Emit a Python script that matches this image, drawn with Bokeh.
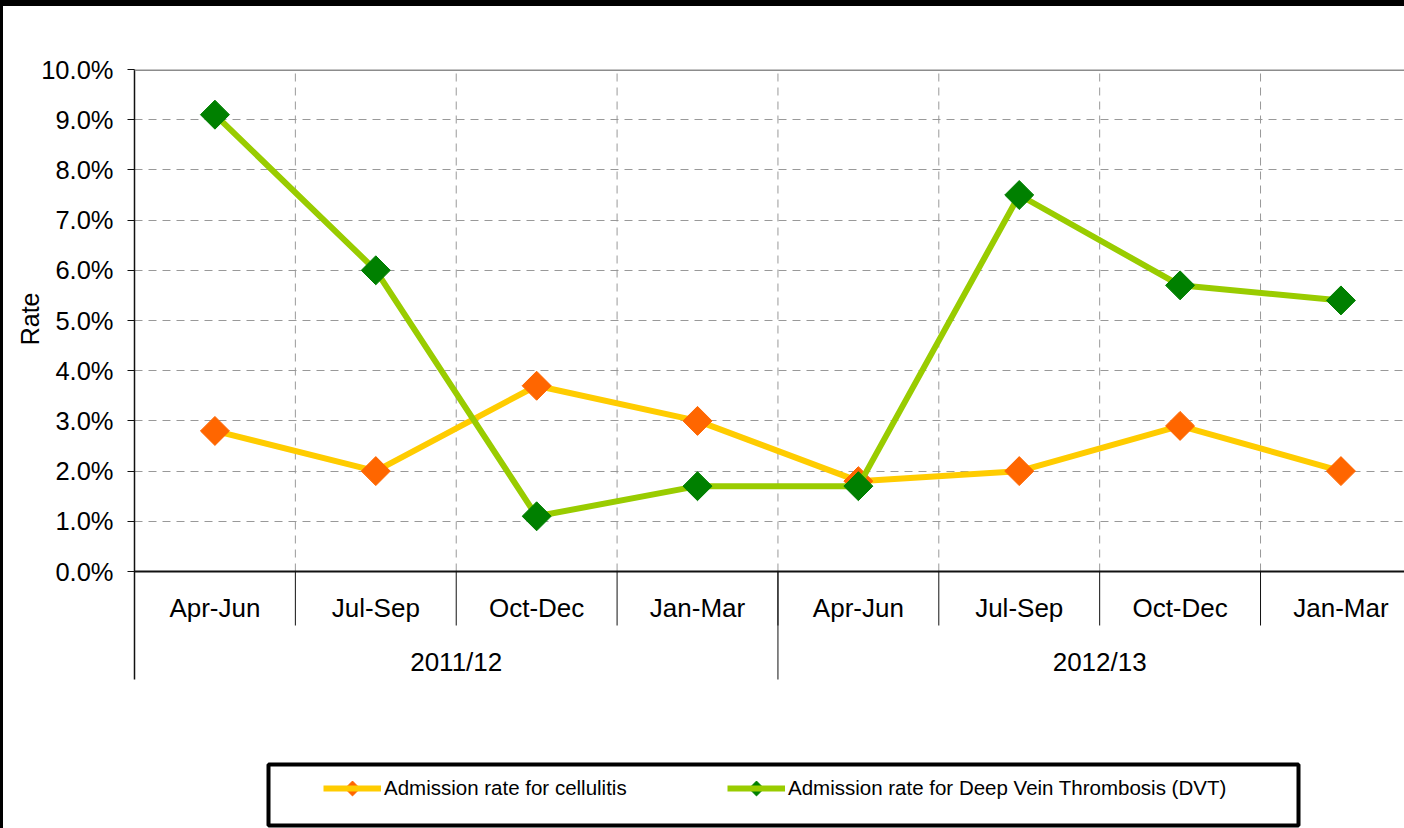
import numpy as np
from bokeh.plotting import figure
from bokeh.models import (Range1d, FixedTicker, PrintfTickFormatter, Span, Legend,
                          LegendItem, BoxAnnotation, ColumnDataSource, Title)
from bokeh.core.properties import value
from bokeh.embed import file_html
from bokeh.resources import INLINE

# ---------------- data ----------------
quarters = ["Apr-Jun", "Jul-Sep", "Oct-Dec", "Jan-Mar",
            "Apr-Jun", "Jul-Sep", "Oct-Dec", "Jan-Mar"]
years = ["2011/12", "2012/13"]
quarters_per_year = 4
cellulitis = [2.8, 2.0, 3.7, 3.0, 1.8, 2.0, 2.9, 2.0]
dvt = [9.1, 6.0, 1.1, 1.7, 1.7, 7.5, 5.7, 5.4]
y_ticks = [0, 1, 2, 3, 4, 5, 6, 7, 8, 9, 10]
series_names = ["Admission rate for cellulitis",
                "Admission rate for Deep Vein Thrombosis (DVT)"]

# ---------------- layout helpers (page pixels -> data) ----------------
OFF_X, OFF_Y = 3, 6            # black page border (inside the figure box)
FRAME_LEFT, ZERO_Y = 134, 571  # page pixels
FRAME_TOP = 69
PX_X, PX_Y = 160.86, 50.2      # pixels per category / per 1%
FRAME_BOTTOM = 828 + OFF_Y


def dx(px):
    return (px - FRAME_LEFT) / PX_X


def dy(py):
    return (ZERO_Y - py) / PX_Y


FONT = value("Liberation Sans")

p = figure(width=1404, height=828, output_backend="svg",
           toolbar_location=None,
           x_range=Range1d(0, dx(1404 + OFF_X)), y_range=Range1d(dy(FRAME_BOTTOM), 10),
           x_axis_location=None,
           min_border_left=FRAME_LEFT - OFF_X, min_border_top=FRAME_TOP - OFF_Y,
           min_border_right=0, min_border_bottom=0,
           outline_line_color=None, background_fill_color="white",
           border_fill_color="white")
p.styles = {"border-top": "6px solid black", "border-left": "3px solid black"}

# y axis
yax = p.yaxis[0]
yax.ticker = FixedTicker(ticks=y_ticks)
yax.formatter = PrintfTickFormatter(format="%.1f%%")
yax.bounds = (dy(679), 10)
yax.axis_line_color = "#111111"
yax.axis_line_width = 1.5
yax.major_tick_out = 7
yax.major_tick_in = 0
yax.minor_tick_line_color = None
yax.major_tick_line_color = "#111111"
yax.major_label_standoff = 14
yax.major_label_text_font = "Liberation Sans"
yax.major_label_text_font_size = "25.5px"
yax.major_label_text_color = "black"

# axis title "Rate": its top end sits 223 px below the frame top
p.add_layout(Title(text="Rate", align="right", offset=292 - FRAME_TOP,
                   text_font="Liberation Sans", text_font_size="25px",
                   text_font_style="normal", text_color="black", standoff=-10),
             "left")

# grid
p.xgrid.visible = False
p.ygrid.grid_line_color = "#999999"
p.ygrid.grid_line_dash = "8 6"
p.ygrid.grid_line_width = 1

n = len(quarters)
centers = [i + 0.5 for i in range(n)]
bounds_x = list(range(1, n + 1))
p.segment(x0=bounds_x, y0=[0] * n, x1=bounds_x, y1=[10] * n,
          line_color="#999999", line_dash="8 6", line_width=1)

p.add_layout(Span(location=10, dimension="width", line_color="#8c8c8c", line_width=3))
p.add_layout(Span(location=0, dimension="width", line_color="#111111", line_width=2))

# category separators below the axis
p.segment(x0=bounds_x, y0=[0] * n, x1=bounds_x, y1=[dy(625)] * n,
          line_color="#111111", line_width=1)
year_bounds = [quarters_per_year * (k + 1) for k in range(len(years))]
p.segment(x0=year_bounds, y0=[0] * len(years), x1=year_bounds,
          y1=[dy(679)] * len(years), line_color="#111111", line_width=1)

# category labels
p.text(x=centers, y=[dy(607)] * n, text=quarters, text_align="center",
       text_baseline="middle", text_font=FONT, text_font_size="26px",
       text_color="black")
year_centers = [quarters_per_year * k + quarters_per_year / 2 for k in range(len(years))]
p.text(x=year_centers, y=[dy(661)] * len(years), text=years, text_align="center",
       text_baseline="middle", text_font=FONT, text_font_size="26px",
       text_color="black")

# series
line_colors = ["#FFCC00", "#99CC00"]
marker_colors = ["#FF6600", "#008000"]
src = ColumnDataSource(dict(x=centers, cel=cellulitis, dvt=dvt))
l1 = p.line("x", "cel", source=src, line_color=line_colors[0], line_width=6)
s1 = p.scatter("x", "cel", source=src, marker="square", size=20.5, angle=np.pi / 4,
               fill_color=marker_colors[0], line_color=marker_colors[0])
l2 = p.line("x", "dvt", source=src, line_color=line_colors[1], line_width=6)
s2 = p.scatter("x", "dvt", source=src, marker="square", size=20.5, angle=np.pi / 4,
               fill_color=marker_colors[1], line_color=marker_colors[1])

# legend box + legend
p.add_layout(BoxAnnotation(left=dx(268), right=dx(1298), top=dy(764), bottom=dy(825),
                           fill_color=None, line_color="black", line_alpha=1.0,
                           line_width=4))
GLYPH_W = 58
LEG_LEFT = [323, 727]
LEG_CY = 788
legend = Legend(items=[LegendItem(label=series_names[0], renderers=[l1]),
                       LegendItem(label=series_names[1], renderers=[l2])],
                orientation="horizontal",
                location=(LEG_LEFT[0] - FRAME_LEFT, FRAME_BOTTOM - (LEG_CY + 13)),
                padding=0, margin=0, spacing=0, glyph_width=GLYPH_W, glyph_height=26,
                label_height=26, label_width=LEG_LEFT[1] - LEG_LEFT[0] - GLYPH_W - 3,
                label_standoff=3,
                label_text_font="Liberation Sans", label_text_font_size="20.5px",
                label_text_color="black", border_line_color=None,
                background_fill_alpha=0)
p.add_layout(legend)
# diamond swatches on top of the legend lines
p.scatter(x=[dx(v + GLYPH_W / 2) for v in LEG_LEFT], y=[dy(LEG_CY)] * 2,
          marker="square", size=10.5, angle=np.pi / 4,
          fill_color=marker_colors, line_color=marker_colors, level="overlay")

open("out.html", "w").write(file_html(p, INLINE))
